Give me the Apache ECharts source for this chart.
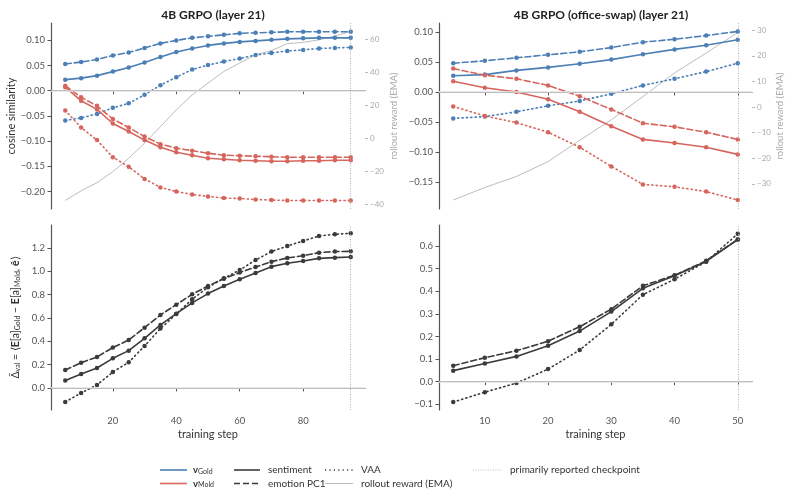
<!DOCTYPE html>
<html><head><meta charset="utf-8">
<script src="https://cdn.jsdelivr.net/npm/echarts@6/dist/echarts.min.js"></script>
<style>html,body{margin:0;padding:0;background:#fff}#c{width:789px;height:495px}</style>
</head><body><div id="c"></div>
<script>
// ---------- data ----------
const stepsA = [5,10,15,20,25,30,35,40,45,50,55,60,65,70,75,80,85,90,95];
const stepsB = [5,10,15,20,25,30,35,40,45,50];
const ticksXA = [20,40,60,80];
const ticksXB = [10,20,30,40,50];

const A_goldSent = [0.022,0.025,0.030,0.038,0.046,0.056,0.067,0.077,0.084,0.090,0.094,0.097,0.099,0.101,0.103,0.104,0.105,0.105,0.105];
const A_goldEmo  = [0.053,0.057,0.062,0.070,0.076,0.085,0.094,0.100,0.105,0.108,0.111,0.114,0.115,0.116,0.117,0.117,0.117,0.117,0.117];
const A_goldVAA  = [-0.059,-0.054,-0.046,-0.034,-0.025,-0.008,0.011,0.027,0.042,0.051,0.058,0.064,0.071,0.075,0.079,0.081,0.084,0.085,0.086];
const A_moldSent = [0.007,-0.020,-0.037,-0.065,-0.081,-0.098,-0.112,-0.122,-0.128,-0.134,-0.136,-0.138,-0.139,-0.140,-0.140,-0.139,-0.139,-0.138,-0.138];
const A_moldEmo  = [0.010,-0.013,-0.030,-0.056,-0.073,-0.091,-0.106,-0.114,-0.119,-0.124,-0.128,-0.129,-0.130,-0.131,-0.132,-0.132,-0.132,-0.132,-0.132];
const A_moldVAA  = [-0.039,-0.073,-0.098,-0.132,-0.151,-0.175,-0.192,-0.200,-0.206,-0.210,-0.213,-0.214,-0.216,-0.217,-0.218,-0.218,-0.218,-0.218,-0.218];
const A_reward   = [-37.6,-31.8,-26.9,-20.2,-12.1,-3.0,7.0,17.2,26.2,33.3,40.4,45.5,50.5,53.0,57.2,58.0,59.5,61.8,64.6];

const B_goldSent = [0.027,0.029,0.036,0.041,0.047,0.054,0.063,0.071,0.078,0.087];
const B_goldEmo  = [0.048,0.052,0.057,0.062,0.067,0.074,0.083,0.088,0.094,0.101];
const B_goldVAA  = [-0.044,-0.041,-0.033,-0.023,-0.015,-0.003,0.011,0.022,0.034,0.048];
const B_moldSent = [0.018,0.007,0.000,-0.012,-0.033,-0.057,-0.079,-0.085,-0.092,-0.104];
const B_moldEmo  = [0.039,0.028,0.022,0.011,-0.007,-0.029,-0.052,-0.058,-0.067,-0.079];
const B_moldVAA  = [-0.024,-0.040,-0.051,-0.067,-0.092,-0.124,-0.154,-0.158,-0.166,-0.180];
const B_reward   = [-36.3,-31.4,-27.1,-21.3,-13.0,-5.0,4.1,13.3,21.1,29.1];

const A_dSent = [0.063,0.120,0.171,0.254,0.320,0.426,0.540,0.637,0.729,0.809,0.874,0.931,0.986,1.040,1.069,1.089,1.111,1.117,1.123];
const A_dEmo  = [0.154,0.217,0.266,0.346,0.411,0.517,0.626,0.714,0.803,0.874,0.937,0.989,1.037,1.083,1.114,1.134,1.160,1.169,1.171];
const A_dVAA  = [-0.120,-0.043,0.026,0.137,0.220,0.360,0.509,0.634,0.760,0.863,0.940,1.011,1.097,1.169,1.217,1.260,1.303,1.317,1.326];

const B_dSent = [0.049,0.081,0.112,0.159,0.224,0.310,0.413,0.469,0.532,0.629];
const B_dEmo  = [0.071,0.106,0.137,0.179,0.243,0.321,0.424,0.471,0.535,0.629];
const B_dVAA  = [-0.090,-0.046,-0.006,0.056,0.140,0.254,0.385,0.453,0.531,0.654];

const ticksCosA = [-0.20,-0.15,-0.10,-0.05,0.00,0.05,0.10];
const ticksCosB = [-0.15,-0.10,-0.05,0.00,0.05,0.10];
const ticksRewA = [-40,-20,0,20,40,60];
const ticksRewB = [-30,-20,-10,0,10,20,30];
const ticksDA = [0.0,0.2,0.4,0.6,0.8,1.0,1.2];
const ticksDB = [-0.1,0.0,0.1,0.2,0.3,0.4,0.5,0.6];

const checkA = 95, checkB = 50;

// ---------- styling ----------
const FONT = 'Lato, "Open Sans", sans-serif';
const BLUE = '#4b7fb6', RED = '#d6655d', DARK = '#3b3b3b', GREY = '#bdbdbd';
const DASH = [6, 3], DOT = [1.2, 3.2];
const minus = s => s.replace('-', '\u2212');

const grids = [
  {left: 51, top: 23, width: 314, height: 186},
  {left: 439, top: 23, width: 313, height: 186},
  {left: 51, top: 225, width: 314, height: 185},
  {left: 439, top: 225, width: 313, height: 185}
];

function xAxis(gi, min, max, ticks, showLabels) {
  return {
    type: 'value', gridIndex: gi, min, max,
    name: showLabels ? 'training step' : '', nameLocation: 'middle', nameGap: 19,
    nameTextStyle: {fontFamily: FONT, fontSize: 11, color: '#333'},
    axisLine: {show: true, lineStyle: {color: '#555', width: 1.2}},
    axisTick: {show: true, length: 3.5, lineStyle: {color: '#555'}, customValues: ticks},
    axisLabel: {show: showLabels, fontFamily: FONT, fontSize: 9.5, color: '#555', margin: 6, customValues: ticks},
    splitLine: {show: false}
  };
}
function yAxis(gi, min, max, ticks, fmt, name, nameGap, nameRich) {
  return {
    type: 'value', gridIndex: gi, min, max, position: 'left',
    name, nameLocation: 'middle', nameGap,
    nameTextStyle: {fontFamily: FONT, fontSize: 11, color: '#333', rich: nameRich},
    axisLine: {show: true, lineStyle: {color: '#555', width: 1.2}},
    axisTick: {show: true, length: 3.5, lineStyle: {color: '#555'}, customValues: ticks},
    axisLabel: {fontFamily: FONT, fontSize: 9.5, color: '#555', margin: 6, customValues: ticks, formatter: fmt},
    splitLine: {show: false}
  };
}
function yAxisR(gi, min, max, ticks, nameGap) {
  return {
    type: 'value', gridIndex: gi, min, max, position: 'right',
    name: 'rollout reward (EMA)', nameLocation: 'middle', nameGap, nameRotate: 90,
    nameTextStyle: {fontFamily: FONT, fontSize: 9.5, color: '#aaa'},
    axisLine: {show: false},
    axisTick: {show: true, length: 3, lineStyle: {color: '#bbb'}, customValues: ticks},
    axisLabel: {fontFamily: FONT, fontSize: 8, color: '#aaa', margin: 5, customValues: ticks, formatter: v => minus(String(v))},
    splitLine: {show: false}
  };
}
function line(xi, yi, xs, ys, color, dash, width) {
  return {
    type: 'line', xAxisIndex: xi, yAxisIndex: yi,
    data: xs.map((x, i) => [x, ys[i]]),
    symbol: 'circle', symbolSize: 4.5, showSymbol: true,
    itemStyle: {color}, lineStyle: {color, width: width || 1.6, type: dash || 'solid', cap: 'round'},
    silent: true, animation: false, z: 3
  };
}
function reward(xi, yi, xs, ys) {
  return {
    type: 'line', xAxisIndex: xi, yAxisIndex: yi,
    data: xs.map((x, i) => [x, ys[i]]), symbol: 'none',
    lineStyle: {color: GREY, width: 1}, silent: true, animation: false, z: 2
  };
}
function refLines(xi, yi, check) {
  return {
    type: 'line', xAxisIndex: xi, yAxisIndex: yi, data: [], silent: true, animation: false,
    markLine: {
      silent: true, symbol: 'none', animation: false, label: {show: false},
      data: [
        {yAxis: 0, lineStyle: {color: '#e2e2e2', width: 1.5, type: 'solid'}},
        {xAxis: check, lineStyle: {color: '#aaa', width: 0.9, type: [1, 1.5]}}
      ]
    }, z: 1
  };
}

const f2 = v => minus(v.toFixed(2));
const f1 = v => minus(v.toFixed(1));

const nameRich = {
  n: {fontFamily: FONT, fontSize: 10.5, color: '#333'},
  s: {fontFamily: FONT, fontSize: 7, color: '#333', verticalAlign: 'bottom', padding: [4, 0, 0, 0]},
  b: {fontFamily: FONT, fontSize: 10.5, color: '#333', fontWeight: 'bold'}
};
const deltaName = '{n|\u0394\u0304}{s|val}{n| = \u27E8}{b|E}{n|[a]}{s|Gold}{n| \u2212 }{b|E}{n|[a]}{s|Mold}{n|, }{b|\u00EA}{n|\u27E9}';

const option = {
  backgroundColor: '#fff',
  animation: false,
  grid: grids,
  title: [
    {text: '4B GRPO (layer 21)', left: 208, top: 4, textAlign: 'center',
     textStyle: {fontFamily: FONT, fontSize: 12, fontWeight: 'bold', color: '#222'}},
    {text: '4B GRPO (office-swap) (layer 21)', left: 596, top: 4, textAlign: 'center',
     textStyle: {fontFamily: FONT, fontSize: 12, fontWeight: 'bold', color: '#222'}}
  ],
  xAxis: [
    xAxis(0, 0.5, 99.5, ticksXA, false),
    xAxis(1, 2.75, 52.25, ticksXB, false),
    xAxis(2, 0.5, 99.5, ticksXA, true),
    xAxis(3, 2.75, 52.25, ticksXB, true)
  ],
  yAxis: [
    yAxis(0, -0.2348, 0.1345, ticksCosA, f2, 'cosine similarity', 34),
    yAxisR(0, -42.8, 69.7, ticksRewA, 24),
    yAxis(1, -0.195, 0.115, ticksCosB, f2, '', 30),
    yAxisR(1, -39.8, 32.8, ticksRewB, 22),
    yAxis(2, -0.189, 1.397, ticksDA, f1, deltaName, 30, nameRich),
    yAxis(3, -0.125, 0.693, ticksDB, f1, '', 30)
  ],
  series: [
    refLines(0, 0, checkA),
    reward(0, 1, stepsA, A_reward),
    line(0, 0, stepsA, A_goldSent, BLUE),
    line(0, 0, stepsA, A_goldEmo, BLUE, DASH),
    line(0, 0, stepsA, A_goldVAA, BLUE, DOT),
    line(0, 0, stepsA, A_moldSent, RED),
    line(0, 0, stepsA, A_moldEmo, RED, DASH),
    line(0, 0, stepsA, A_moldVAA, RED, DOT),

    refLines(1, 2, checkB),
    reward(1, 3, stepsB, B_reward),
    line(1, 2, stepsB, B_goldSent, BLUE),
    line(1, 2, stepsB, B_goldEmo, BLUE, DASH),
    line(1, 2, stepsB, B_goldVAA, BLUE, DOT),
    line(1, 2, stepsB, B_moldSent, RED),
    line(1, 2, stepsB, B_moldEmo, RED, DASH),
    line(1, 2, stepsB, B_moldVAA, RED, DOT),

    refLines(2, 4, checkA),
    line(2, 4, stepsA, A_dSent, DARK),
    line(2, 4, stepsA, A_dEmo, DARK, DASH),
    line(2, 4, stepsA, A_dVAA, DARK, DOT),

    refLines(3, 5, checkB),
    line(3, 5, stepsB, B_dSent, DARK),
    line(3, 5, stepsB, B_dEmo, DARK, DASH),
    line(3, 5, stepsB, B_dVAA, DARK, DOT)
  ]
};

// ---------- legend (graphic) ----------
function legLine(x1, x2, y, color, dash, width) {
  return {type: 'line', shape: {x1, y1: y, x2, y2: y}, silent: true,
          style: {stroke: color, lineWidth: width || 1.6, lineDash: dash || null}};
}
function legText(x, y, text, rich) {
  return {type: 'text', x, y, silent: true,
          style: {text, fontFamily: FONT, fontSize: 10, fill: '#333', verticalAlign: 'middle', rich}};
}
const legRich = {
  v: {fontFamily: FONT, fontSize: 9.5, fontWeight: 'bold', fill: '#333'},
  s: {fontFamily: FONT, fontSize: 7, fill: '#333', padding: [3, 0, 0, 0]}
};
const r1 = 470, r2 = 483.5;
option.graphic = [
  legLine(160, 187, r1, BLUE), legText(193, r1, '{v|v}{s|Gold}', legRich),
  legLine(160, 187, r2, RED),  legText(193, r2, '{v|v}{s|Mold}', legRich),
  legLine(234, 260, r1, DARK), legText(268, r1, 'sentiment'),
  legLine(234, 260, r2, DARK, DASH), legText(268, r2, 'emotion PC1'),
  legLine(325, 353, r1, DARK, DOT), legText(361, r1, 'VAA'),
  legLine(325, 353, r2, GREY, null, 1), legText(361, r2, 'rollout reward (EMA)'),
  legLine(473, 502, r1, '#bbb', [1, 1.5], 0.9), legText(510, r1, 'primarily reported checkpoint')
];

const chart = echarts.init(document.getElementById('c'), null, {renderer: 'canvas'});
chart.setOption(option);
</script>
</body></html>
